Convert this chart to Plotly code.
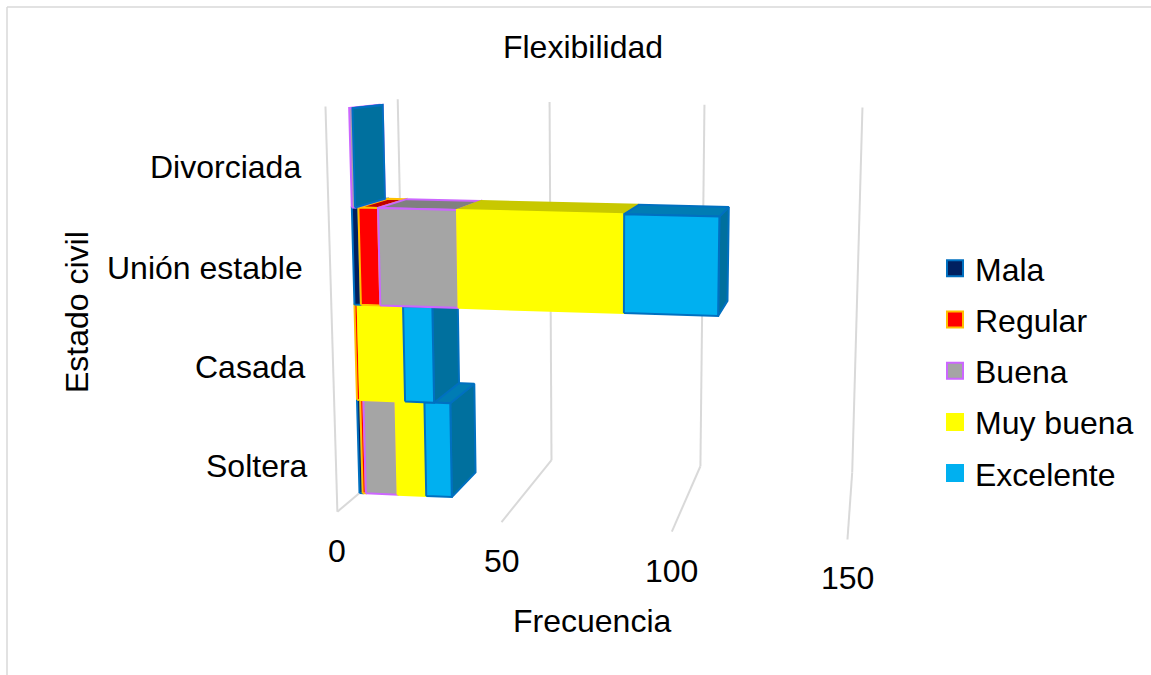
import plotly.graph_objects as go

# ---- data ----
categories = ["Soltera", "Casada", "Unión estable", "Divorciada"]
series_names = ["Mala", "Regular", "Buena", "Muy buena", "Excelente"]
mala = [1, 0, 2, 0]
regular = [1, 1, 6, 0]
buena = [10, 0, 24, 1]
muy_buena = [9, 14, 50, 0]
excelente = [8, 9, 28, 0]
x_ticks = [0, 50, 100, 150]

series_values = [mala, regular, buena, muy_buena, excelente]

# ---- styles ----
FONT = "Liberation Sans"
FS = 32
fill = ["#002060", "#FF0000", "#A5A5A5", "#FFFF00", "#00B0F0"]
edge = ["#0070C0", "#FFC000", "#CC66FF", "#FFFF00", "#0070C0"]
depth_edge = ["#0070C0", "#FFC000", "#CC66FF", "#C8C800", "#0070C0"]
legend_edge = ["#0070C0", "#FFC000", "#CC66FF", "#FFFF00", "#00B0F0"]
top_c = ["#001A4D", "#C00000", "#808080", "#C8C800", "#007CB4"]
side_c = ["#00144A", "#A00000", "#6E6E6E", "#A8A800", "#00709E"]

# ---- 3D chart projection: three vanishing points and an origin ----
ORIGIN = (359.5, 493.0)
VP_VALUE, A_VALUE = (-15000.0, -176.0), -0.000206
VP_ROW, A_ROW = (600.0, 9450.0), -0.0103
VP_DEPTH, A_DEPTH = (882.0, 51.0), 0.058
FLOOR_BACK, WALL_TOP = 1.66, 4.04
floor_front = [-0.7, -0.8, -0.86, -0.86]


def project(v, row, d):
    w = 1 + A_VALUE * v + A_ROW * row + A_DEPTH * d
    x = ORIGIN[0] + A_VALUE * v * VP_VALUE[0] + A_ROW * row * VP_ROW[0] + A_DEPTH * d * VP_DEPTH[0]
    y = ORIGIN[1] + A_VALUE * v * VP_VALUE[1] + A_ROW * row * VP_ROW[1] + A_DEPTH * d * VP_DEPTH[1]
    return x / w, y / w


def poly(points, color, line_color, width=2):
    pts = [project(*p) for p in points]
    pts.append(pts[0])
    fig.add_trace(go.Scatter(
        x=[p[0] for p in pts], y=[p[1] for p in pts], mode="lines", fill="toself",
        fillcolor=color, line=dict(color=line_color, width=width),
        showlegend=False, hoverinfo="skip"))


def seg_line(a, b, color="#D9D9D9", width=2):
    pa, pb = project(*a), project(*b)
    fig.add_trace(go.Scatter(x=[pa[0], pb[0]], y=[pa[1], pb[1]], mode="lines",
                             line=dict(color=color, width=width),
                             showlegend=False, hoverinfo="skip"))


fig = go.Figure()

# walls and floor grid
for t, ff in zip(x_ticks, floor_front):
    seg_line((t, 0, ff), (t, 0, FLOOR_BACK))
    seg_line((t, 0, FLOOR_BACK), (t, WALL_TOP, FLOOR_BACK))
seg_line((0, 0, floor_front[0]), (0, WALL_TOP, floor_front[0]))

# bars: lowest row first, left to right inside each row
for row in range(len(categories)):
    start = 0
    for i, values in enumerate(series_values):
        val = values[row]
        last = i == len(series_values) - 1
        end = start + val
        if val > 0 or last:
            poly([(end, row, 0), (end, row, 1), (end, row + 1, 1), (end, row + 1, 0)], side_c[i], depth_edge[i])
            poly([(start, row + 1, 0), (end, row + 1, 0), (end, row + 1, 1), (start, row + 1, 1)], top_c[i], depth_edge[i])
        if val > 0:
            poly([(start, row, 0), (end, row, 0), (end, row + 1, 0), (start, row + 1, 0)], fill[i], edge[i])
        start = end

# legend entries
for i, name in enumerate(series_names):
    fig.add_trace(go.Scatter(
        x=[None], y=[None], mode="markers", name=name, legendgroup=name,
        marker=dict(symbol="square", size=16, color=fill[i], line=dict(color=legend_edge[i], width=2))))

annotations = []
# value axis labels sit under the front edge of the floor
for t, ff in zip(x_ticks, floor_front):
    px, py = project(t, 0, ff)
    annotations.append(dict(x=px, y=py, xref="x", yref="y", text=str(t), showarrow=False,
                            yshift=-39, xanchor="center", yanchor="middle"))
# category labels
label_right = [310, 308, 305, 303]
label_mid = [466, 367, 268, 167]
for c, lx, ly in zip(categories, label_right, label_mid):
    annotations.append(dict(x=lx, y=ly, xref="x", yref="y", text=c, showarrow=False,
                            xanchor="right", yanchor="middle"))
annotations.append(dict(x=592, y=621, xref="x", yref="y", text="Frecuencia", showarrow=False,
                        xanchor="center", yanchor="middle"))
annotations.append(dict(x=77, y=312, xref="x", yref="y", text="Estado civil", showarrow=False,
                        textangle=-90, xanchor="center", yanchor="middle"))

fig.update_layout(
    width=1151, height=675, margin=dict(l=0, r=0, t=0, b=0),
    paper_bgcolor="white", plot_bgcolor="white",
    font=dict(family=FONT, size=FS, color="#000000"),
    title=dict(text="Flexibilidad", x=583 / 1151, y=1 - 47 / 675, xanchor="center", yanchor="middle",
               font=dict(family=FONT, size=FS, color="#000000")),
    xaxis=dict(range=[0, 1151], visible=False, fixedrange=True),
    yaxis=dict(range=[675, 0], visible=False, fixedrange=True),
    annotations=annotations,
    legend=dict(x=935 / 1151, y=1 - 371 / 675, xanchor="left", yanchor="middle",
                bgcolor="rgba(0,0,0,0)", tracegroupgap=6.6, itemsizing="trace",
                font=dict(family=FONT, size=FS, color="#000000")),
    shapes=[
        dict(type="line", xref="x", yref="y", x0=7, y0=7, x1=1151, y1=7, line=dict(color="#D9D9D9", width=1.5)),
        dict(type="line", xref="x", yref="y", x0=7, y0=7, x1=7, y1=675, line=dict(color="#D9D9D9", width=1.5)),
    ],
)

fig.write_html("out.html", config=dict(displayModeBar=False),
               post_script="document.body.style.margin='0';document.documentElement.style.overflow='hidden';")
